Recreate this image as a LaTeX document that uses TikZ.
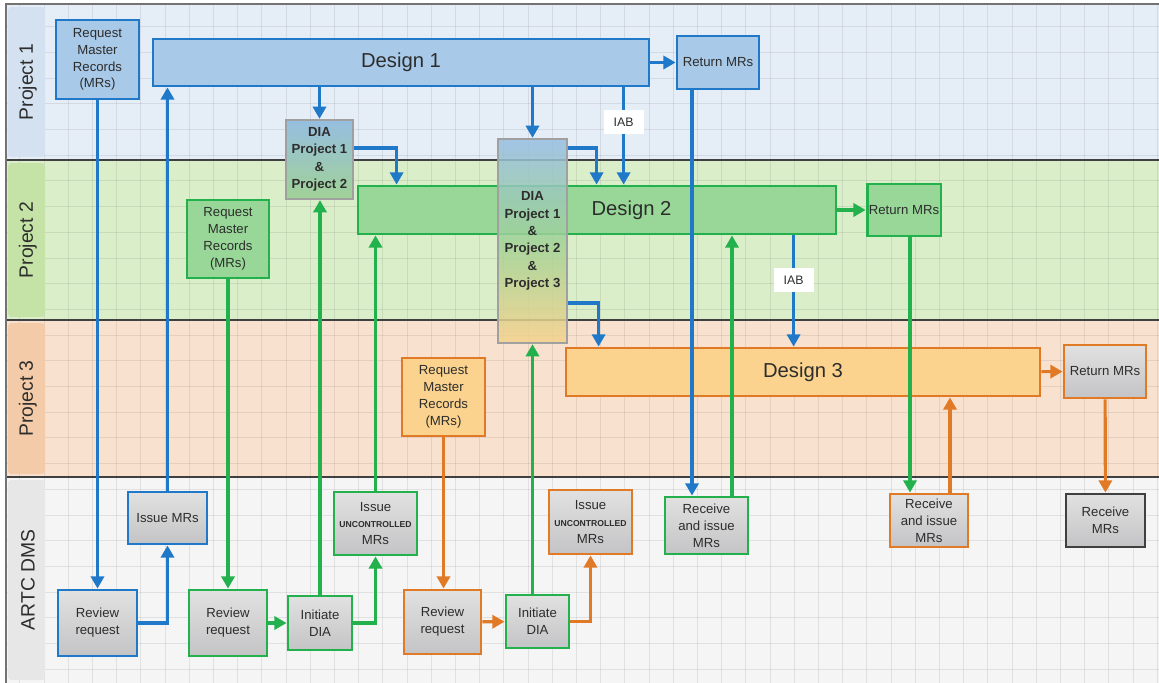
\documentclass[tikz,border=0pt]{standalone}
\usepackage{fontspec}
\setmainfont{Liberation Sans}
\usetikzlibrary{arrows.meta}
\definecolor{pblue}{RGB}{31,120,200}
\definecolor{pgreen}{RGB}{34,177,76}
\definecolor{porange}{RGB}{224,122,38}
\definecolor{fblue}{RGB}{168,201,232}
\definecolor{fgreen}{RGB}{152,215,152}
\definecolor{forange}{RGB}{251,211,142}
\definecolor{lblue}{RGB}{229,237,247}
\definecolor{lgreen}{RGB}{219,238,202}
\definecolor{lorange}{RGB}{249,225,208}
\definecolor{lgray}{RGB}{245,245,245}
\definecolor{tblue}{RGB}{212,225,240}
\definecolor{tgreen}{RGB}{197,227,167}
\definecolor{torange}{RGB}{243,203,168}
\definecolor{tgray}{RGB}{231,231,231}
\definecolor{gtop}{RGB}{225,225,225}
\definecolor{gbot}{RGB}{196,196,198}
\definecolor{diagray}{RGB}{160,160,160}
\definecolor{diablue}{RGB}{150,190,225}
\definecolor{diagreen}{RGB}{160,210,150}
\definecolor{diaorange}{RGB}{245,210,140}
\definecolor{txt}{RGB}{45,45,45}

\begin{document}
\begin{tikzpicture}[
  box/.style={draw, line width=1.6pt, align=center, text=txt, inner sep=1pt,
    font=\fontsize{7.5}{9.6}\selectfont},
  bluebox/.style={box, draw=pblue, fill=fblue},
  greenbox/.style={box, draw=pgreen, fill=fgreen},
  orangebox/.style={box, draw=porange, fill=forange},
  graybox/.style={box, top color=gtop, bottom color=gbot},
  diabox/.style={box, draw=diagray, line width=1.3pt,
    font=\fontsize{7.5}{9.9}\selectfont\bfseries},
  design/.style={text=txt, font=\fontsize{11.5}{14}\selectfont},
  iab/.style={fill=white, text=txt, inner sep=0pt, minimum width=0.8cm,
    minimum height=0.48cm, font=\fontsize{7}{8}\selectfont},
  arr/.style={line width=1.8pt, -{Triangle[length=7pt,width=7.5pt]}},
  lanelabel/.style={rotate=90, text=txt, font=\fontsize{11}{13}\selectfont},
  gridline/.style={black, opacity=0.08, line width=0.5pt}
]
  \useasboundingbox (0,0) rectangle (23.18,-13.66);
  \fill[lblue] (0.12,-0.08) rectangle (23.18,-3.2);
  \fill[lgreen] (0.12,-3.2) rectangle (23.18,-6.4);
  \fill[lorange] (0.12,-6.4) rectangle (23.18,-9.54);
  \fill[lgray] (0.12,-9.54) rectangle (23.18,-13.66);
  \foreach \i in {0,...,47}
    \draw[gridline] ({0.396+\i*0.484},-0.08) -- ++(0,-13.58);
  \foreach \j in {1,...,26}
    \draw[gridline] (0.12,{-0.02-\j*0.514}) -- (23.18,{-0.02-\j*0.514});
  \fill[tblue, rounded corners=2pt] (0.16,-0.14) rectangle (0.9,-3.14);
  \fill[tgreen, rounded corners=2pt] (0.16,-3.26) rectangle (0.9,-6.34);
  \fill[torange, rounded corners=2pt] (0.16,-6.46) rectangle (0.9,-9.48);
  \fill[tgray, rounded corners=2pt] (0.16,-9.6) rectangle (0.9,-13.6);
  \draw[black!75, line width=0.6pt] (0.12,-3.2) -- (23.18,-3.2);
  \draw[black!75, line width=0.6pt] (0.12,-6.4) -- (23.18,-6.4);
  \draw[black!75, line width=0.6pt] (0.12,-9.54) -- (23.18,-9.54);
  \draw[black!55, line width=1pt] (23.18,-0.08) -- (0.12,-0.08) -- (0.12,-13.66);
  \node[lanelabel] (lane1) at (0.56,-1.64) {Project 1};
  \node[lanelabel] (lane2) at (0.56,-4.8) {Project 2};
  \node[lanelabel] (lane3) at (0.56,-7.97) {Project 3};
  \node[lanelabel] (lane4) at (0.56,-11.6) {ARTC DMS};

  \node[bluebox, minimum width=1.66cm, minimum height=1.58cm] (req1) at (1.95,-1.19) {Request\\Master\\Records\\(MRs)};
  \node[bluebox, design, minimum width=9.92cm, minimum height=0.94cm] (design1) at (8.02,-1.25) {Design 1};
  \node[bluebox, minimum width=1.64cm, minimum height=1.06cm] (ret1) at (14.36,-1.25) {Return MRs};
  \node[diabox, minimum width=1.34cm, minimum height=1.58cm, top color=diablue, bottom color=diagreen] (dia12) at (6.39,-3.19) {DIA\\Project 1\\\&\\Project 2};

  \node[greenbox, minimum width=1.64cm, minimum height=1.56cm] (req2) at (4.56,-4.78) {Request\\Master\\Records\\(MRs)};
  \node[greenbox, minimum width=9.56cm, minimum height=0.96cm, label={[design, xshift=0.69cm]center:Design 2}] (design2) at (11.94,-4.2) {};
  \node[greenbox, minimum width=1.44cm, minimum height=1.04cm] (ret2) at (18.08,-4.2) {Return MRs};
  \node[diabox, minimum width=1.38cm, minimum height=4.08cm, top color=diablue, bottom color=diaorange, middle color=diagreen, fill opacity=0.85, text opacity=1] (dia123) at (10.65,-4.82) {DIA\\Project 1\\\&\\Project 2\\\&\\Project 3};

  \node[orangebox, minimum width=1.66cm, minimum height=1.56cm] (req3) at (8.87,-7.94) {Request\\Master\\Records\\(MRs)};
  \node[orangebox, design, minimum width=9.48cm, minimum height=0.96cm] (design3) at (16.06,-7.44) {Design 3};
  \node[graybox, draw=porange, minimum width=1.64cm, minimum height=1.06cm] (ret3) at (22.1,-7.43) {Return MRs};

  \node[graybox, draw=pblue, minimum width=1.58cm, minimum height=1.04cm] (issue1) at (3.35,-10.36) {Issue MRs};
  \node[graybox, draw=pblue, minimum width=1.58cm, minimum height=1.32cm] (review1) at (1.95,-12.46) {Review\\request};
  \node[graybox, draw=pgreen, minimum width=1.56cm, minimum height=1.32cm] (review2) at (4.56,-12.46) {Review\\request};
  \node[graybox, draw=pgreen, minimum width=1.28cm, minimum height=1.08cm] (init2) at (6.4,-12.46) {Initiate\\DIA};
  \node[graybox, draw=pgreen, minimum width=1.66cm, minimum height=1.26cm] (unc2) at (7.51,-10.47) {Issue\\{\fontsize{4.9}{9.6}\selectfont\bfseries UNCONTROLLED}\\MRs};
  \node[graybox, draw=porange, minimum width=1.54cm, minimum height=1.28cm] (review3) at (8.85,-12.44) {Review\\request};
  \node[graybox, draw=pgreen, minimum width=1.26cm, minimum height=1.06cm] (init3) at (10.75,-12.43) {Initiate\\DIA};
  \node[graybox, draw=porange, minimum width=1.66cm, minimum height=1.28cm] (unc3) at (11.81,-10.44) {Issue\\{\fontsize{4.9}{9.6}\selectfont\bfseries UNCONTROLLED}\\MRs};
  \node[graybox, draw=pgreen, minimum width=1.66cm, minimum height=1.14cm] (recv2) at (14.13,-10.51) {Receive\\and issue\\MRs};
  \node[graybox, draw=porange, minimum width=1.56cm, minimum height=1.06cm] (recv3) at (18.58,-10.41) {Receive\\and issue\\MRs};
  \node[graybox, draw=black!75, minimum width=1.58cm, minimum height=1.06cm] (recvmr) at (22.11,-10.41) {Receive\\MRs};

  \draw[arr, pblue] (req1) -- (review1);
  \draw[arr, pblue] (review1.east) -| (issue1.south);
  \draw[arr, pblue] (issue1.north) -- (issue1.north |- design1.south);
  \draw[arr, pblue] (design1.south -| dia12.north) -- (dia12.north);
  \draw[arr, pblue] ([yshift=0.23cm]dia12.east) -| ([xshift=0.8cm]design2.north west);
  \draw[arr, pblue] (design1.south -| dia123.north) -- (dia123.north);
  \draw[arr, pblue] ([yshift=1.86cm]dia123.east) -| ([xshift=4.8cm]design2.north west);
  \draw[arr, pblue] ([xshift=9.44cm]design1.south west) -- ([xshift=9.44cm]design1.south west |- design2.north) node[iab, pos=0.36] (iab1) {IAB};
  \draw[arr, pblue] (design1) -- (ret1);
  \draw[arr, pblue] ([xshift=-0.52cm]ret1.south) -- ([xshift=-0.52cm]ret1.south |- recv2.north);
  \draw[arr, pblue] ([yshift=-1.24cm]dia123.east) -| ([xshift=0.68cm]design3.north west);
  \draw[arr, pblue] ([xshift=8.74cm]design2.south west) -- ([xshift=8.74cm]design2.south west |- design3.north) node[iab, pos=0.4] (iab2) {IAB};

  \draw[arr, pgreen] (req2) -- (review2);
  \draw[arr, pgreen] (review2) -- (init2);
  \draw[arr, pgreen] (init2.north) -- (init2.north |- dia12.south);
  \draw[arr, pgreen] (init2.east) -| (unc2.south);
  \draw[arr, pgreen] (unc2.north) -- (unc2.north |- design2.south);
  \draw[arr, pgreen] (dia123.south |- init3.north) -- (dia123.south);
  \draw[arr, pgreen] ([xshift=0.51cm]recv2.north) -- ([xshift=0.51cm]recv2.north |- design2.south);
  \draw[arr, pgreen] (design2) -- (ret2);
  \draw[arr, pgreen] ([xshift=0.12cm]ret2.south) -- ([xshift=0.12cm]ret2.south |- recv3.north);

  \draw[arr, porange] (req3.south) -- (req3.south |- review3.north);
  \draw[arr, porange] (review3) -- (init3);
  \draw[arr, porange] (init3.east) -| (unc3.south);
  \draw[arr, porange] ([xshift=0.42cm]recv3.north) -- ([xshift=0.42cm]recv3.north |- design3.south);
  \draw[arr, porange] (design3) -- (ret3);
  \draw[arr, porange] (ret3) -- (recvmr);
\end{tikzpicture}
\end{document}
